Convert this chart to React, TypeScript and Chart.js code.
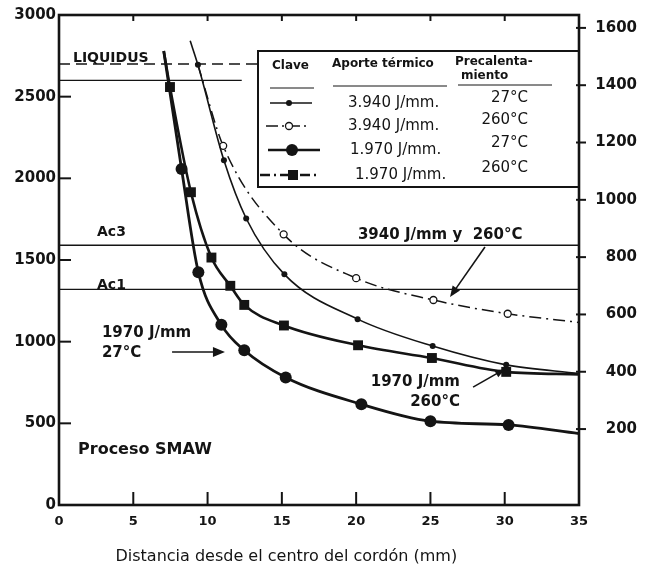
import React, { useEffect, useRef } from 'react';
import { Chart, registerables } from 'chart.js';

Chart.register(...registerables);

const INK = '#141414';
const FONT = '"DejaVu Sans", "Liberation Sans", sans-serif';

// Axis ticks
const xTicks = [0, 5, 10, 15, 20, 25, 30, 35];
const yTicksF = [0, 500, 1000, 1500, 2000, 2500, 3000];
const yTicksC = [200, 400, 600, 800, 1000, 1200, 1400, 1600];

// Series: distance from weld centre (mm) vs peak temperature (°F)
const dist3940at27 = [8.83, 9.35, 11.1, 12.6, 15.17, 20.1, 25.15, 30.1, 35];
const temp3940at27 = [2842, 2695, 2110, 1754, 1412, 1138, 973, 858, 805];

const dist3940at260 = [9.35, 11.05, 15.12, 20.0, 25.2, 30.2, 35];
const temp3940at260 = [2695, 2199, 1657, 1389, 1255, 1171, 1118];

const dist1970at27 = [7.05, 8.25, 9.38, 10.93, 12.47, 15.26, 20.35, 25.0, 30.26, 35];
const temp1970at27 = [2780, 2057, 1425, 1103, 947, 781, 617, 513, 490, 437];

const dist1970at260 = [7.05, 7.47, 8.88, 10.26, 11.53, 12.47, 15.14, 20.13, 25.1, 30.1, 35];
const temp1970at260 = [2780, 2559, 1915, 1515, 1342, 1225, 1099, 978, 900, 815, 800];

// Reference temperatures (°F)
const LIQUIDUS_F = 2700;
const UPPER_F = 2600;
const UPPER_END_MM = 12.3;
const AC3_F = 1590;
const AC1_F = 1320;

// Legend text
const legendHeat = ['3.940 J/mm.', '3.940 J/mm.', '1.970 J/mm.', '1.970 J/mm.'];
const legendPre = ['27°C', '260°C', '27°C', '260°C'];

const toPts = (xs: number[], ys: number[]) => xs.map((x, i) => ({ x, y: ys[i] }));
const marker = (r: number) => (c: any) =>
  c.dataIndex === 0 || c.dataIndex === c.dataset.data.length - 1 ? 0 : r;

function arrow(ctx: CanvasRenderingContext2D, x1: number, y1: number, x2: number, y2: number, head = 10, w = 4.5) {
  const ang = Math.atan2(y2 - y1, x2 - x1);
  ctx.beginPath();
  ctx.moveTo(x1, y1);
  ctx.lineTo(x2 - Math.cos(ang) * head * 0.6, y2 - Math.sin(ang) * head * 0.6);
  ctx.stroke();
  ctx.beginPath();
  ctx.moveTo(x2, y2);
  ctx.lineTo(x2 - head * Math.cos(ang) + w * Math.sin(ang), y2 - head * Math.sin(ang) - w * Math.cos(ang));
  ctx.lineTo(x2 - head * Math.cos(ang) - w * Math.sin(ang), y2 - head * Math.sin(ang) + w * Math.cos(ang));
  ctx.closePath();
  ctx.fill();
}

const overlay = {
  id: 'overlay',
  beforeDatasetsDraw(chart: any) {
    const { ctx, scales } = chart;
    const x = scales.x, y = scales.y;
    ctx.save();
    ctx.strokeStyle = INK;
    ctx.lineWidth = 1.4;
    const h = (v: number, x0: number, x1: number) => {
      ctx.beginPath();
      ctx.moveTo(x.getPixelForValue(x0), y.getPixelForValue(v));
      ctx.lineTo(x.getPixelForValue(x1), y.getPixelForValue(v));
      ctx.stroke();
    };
    h(AC3_F, 0, 35);
    h(AC1_F, 0, 35);
    h(UPPER_F, 0, UPPER_END_MM);
    ctx.setLineDash([11, 6]);
    ctx.lineWidth = 1.6;
    h(LIQUIDUS_F, 0, 35);
    ctx.restore();
  },
  afterDatasetsDraw(chart: any) {
    const { ctx, chartArea: a, scales } = chart;
    const x = scales.x, y = scales.y, yc = scales.yC;
    const px = (v: number) => x.getPixelForValue(v);
    const py = (v: number) => y.getPixelForValue(v);
    ctx.save();
    ctx.fillStyle = INK;
    ctx.strokeStyle = INK;

    // ---- legend box ----
    const L = a.left + 199, T = a.top + 36, B = a.top + 172, R = a.right;
    ctx.fillStyle = '#fff';
    ctx.fillRect(L, T, R - L, B - T);
    ctx.lineWidth = 2;
    ctx.strokeRect(L, T, R - L, B - T);
    ctx.fillStyle = INK;
    ctx.textBaseline = 'middle';
    ctx.textAlign = 'left';
    ctx.font = `bold 12px ${FONT}`;
    ctx.fillText('Clave', L + 14, T + 15);
    ctx.fillText('Aporte térmico', L + 74, T + 13);
    ctx.fillText('Precalenta-', L + 197, T + 11);
    ctx.fillText('miento', L + 203, T + 25);
    ctx.lineWidth = 1;
    const ul = (x0: number, x1: number, yy: number) => {
      ctx.beginPath(); ctx.moveTo(x0, yy); ctx.lineTo(x1, yy); ctx.stroke();
    };
    ul(L + 12, L + 56, T + 37);
    ul(L + 75, L + 189, T + 35);
    ul(L + 200, L + 294, T + 34);

    const rowY = [T + 52, T + 75, T + 99, T + 124];
    const preY = [T + 47, T + 69, T + 92, T + 117];
    const heatX = [L + 90, L + 90, L + 92, L + 97];
    ctx.font = `15px ${FONT}`;
    for (let i = 0; i < 4; i++) {
      ctx.textAlign = 'left';
      ctx.fillText(legendHeat[i], heatX[i], rowY[i]);
      ctx.textAlign = 'right';
      ctx.fillText(legendPre[i], L + 270, preY[i]);
    }
    // legend samples
    const sample = (i: number, x0: number, x1: number, lw: number, dash: number[]) => {
      ctx.lineWidth = lw;
      ctx.setLineDash(dash);
      ctx.beginPath(); ctx.moveTo(x0, rowY[i]); ctx.lineTo(x1, rowY[i]); ctx.stroke();
      ctx.setLineDash([]);
    };
    sample(0, L + 12, L + 54, 1.6, []);
    ctx.beginPath(); ctx.arc(L + 31, rowY[0], 3, 0, Math.PI * 2); ctx.fill();
    sample(1, L + 8, L + 52, 1.5, [12, 4, 2, 4]);
    ctx.beginPath(); ctx.arc(L + 31, rowY[1], 3.5, 0, Math.PI * 2);
    ctx.fillStyle = '#fff'; ctx.fill(); ctx.lineWidth = 1.3; ctx.stroke(); ctx.fillStyle = INK;
    sample(2, L + 10, L + 62, 2.6, []);
    ctx.beginPath(); ctx.arc(L + 34, rowY[2], 6, 0, Math.PI * 2); ctx.fill();
    sample(3, L + 2, L + 60, 2.4, [10, 4, 2, 4]);
    ctx.fillRect(L + 30, rowY[3] - 5, 10, 10);

    // ---- annotations ----
    ctx.textAlign = 'left';
    ctx.font = `bold 14px ${FONT}`;
    ctx.fillText('LIQUIDUS', px(0.94), py(2737));
    ctx.fillText('Ac3', px(2.56), py(1671));
    ctx.fillText('Ac1', px(2.56), py(1347));
    ctx.font = `bold 15px ${FONT}`;
    ctx.fillText('1970 J/mm', px(2.89), py(1053));
    ctx.fillText('27°C', px(2.89), py(931));
    ctx.fillText('3940 J/mm y  260°C', px(20.12), py(1653));
    ctx.font = `bold 16px ${FONT}`;
    ctx.fillText('Proceso SMAW', px(1.28), py(337));
    ctx.font = `bold 15px ${FONT}`;
    ctx.textAlign = 'right';
    ctx.fillText('1970 J/mm', px(26.99), py(753));
    ctx.fillText('260°C', px(26.99), py(631));
    ctx.lineWidth = 1.6;
    arrow(ctx, px(7.61), py(937), px(11.17), py(937), 12, 5);
    arrow(ctx, px(28.67), py(1580), px(26.32), py(1273), 11, 4.5);
    arrow(ctx, px(27.87), py(722), px(30.02), py(833), 10, 4);

    // x-axis title
    ctx.textAlign = 'center';
    ctx.font = `16px ${FONT}`;
    ctx.fillText('Distancia desde el centro del cordón (mm)', px(15.3), a.bottom + 52);

    // ---- frame and ticks ----
    ctx.lineWidth = 2.6;
    ctx.strokeRect(a.left, a.top, a.right - a.left, a.bottom - a.top);
    ctx.lineWidth = 2;
    for (const v of xTicks) {
      if (v === 0 || v === 35) continue;
      ctx.beginPath(); ctx.moveTo(px(v), a.bottom); ctx.lineTo(px(v), a.bottom - 13); ctx.stroke();
      ctx.beginPath(); ctx.moveTo(px(v), a.top); ctx.lineTo(px(v), a.top + 6); ctx.stroke();
    }
    for (const v of yTicksF) {
      if (v === 0 || v === 3000) continue;
      ctx.beginPath(); ctx.moveTo(a.left, py(v)); ctx.lineTo(a.left + 12, py(v)); ctx.stroke();
    }
    for (const v of yTicksC) {
      const yy = yc.getPixelForValue(v);
      ctx.beginPath(); ctx.moveTo(a.right - 3, yy); ctx.lineTo(a.right + 7, yy); ctx.stroke();
    }
    ctx.restore();
  },
};

export default function App() {
  const ref = useRef<HTMLCanvasElement>(null);
  useEffect(() => {
    const tickFont = (size: number) => ({ family: FONT, size, weight: 'bold' as const });
    const plain = (v: any) => String(v);
    const fitY = (w: number) => (s: any) => { s.width = w; s.paddingTop = 0; s.paddingBottom = 0; };
    const chart = new Chart(ref.current!, {
      type: 'line',
      data: {
        datasets: [
          {
            label: '3.940 J/mm 27°C',
            data: toPts(dist3940at27, temp3940at27),
            borderColor: INK,
            borderWidth: 1.6,
            pointStyle: 'circle',
            pointRadius: marker(3),
            pointBackgroundColor: INK,
            pointBorderWidth: 0,
            cubicInterpolationMode: 'monotone',
          },
          {
            label: '3.940 J/mm 260°C',
            data: toPts(dist3940at260, temp3940at260),
            borderColor: INK,
            borderWidth: 1.5,
            borderDash: [12, 5, 2, 5],
            pointStyle: 'circle',
            pointRadius: marker(3.5),
            pointBackgroundColor: '#fff',
            pointBorderColor: INK,
            pointBorderWidth: 1.3,
            cubicInterpolationMode: 'monotone',
          },
          {
            label: '1.970 J/mm 27°C',
            data: toPts(dist1970at27, temp1970at27),
            borderColor: INK,
            borderWidth: 2.8,
            pointStyle: 'circle',
            pointRadius: marker(6),
            pointBackgroundColor: INK,
            pointBorderWidth: 0,
            cubicInterpolationMode: 'monotone',
          },
          {
            label: '1.970 J/mm 260°C',
            data: toPts(dist1970at260, temp1970at260),
            borderColor: INK,
            borderWidth: 2.6,
            pointStyle: 'rect',
            pointRadius: marker(7),
            pointBackgroundColor: INK,
            pointBorderWidth: 0,
            cubicInterpolationMode: 'monotone',
          },
        ],
      },
      options: {
        responsive: false,
        animation: false,
        devicePixelRatio: 1,
        events: [],
        layout: { padding: { top: 15, left: 0, right: 8, bottom: 0 } },
        plugins: { legend: { display: false }, tooltip: { enabled: false } },
        scales: {
          x: {
            type: 'linear',
            position: 'bottom',
            min: 0,
            max: 35,
            afterBuildTicks: (s: any) => { s.ticks = xTicks.map((value) => ({ value })); },
            afterFit: (s: any) => { s.height = 66; s.paddingLeft = 0; s.paddingRight = 0; },
            grid: { display: false, drawTicks: false },
            border: { display: false },
            ticks: { padding: 9, font: tickFont(13), color: INK, autoSkip: false, maxRotation: 0, callback: plain },
          },
          y: {
            type: 'linear',
            position: 'left',
            min: 0,
            max: 3000,
            afterBuildTicks: (s: any) => { s.ticks = yTicksF.map((value) => ({ value })); },
            afterFit: fitY(59),
            grid: { display: false, drawTicks: false },
            border: { display: false },
            ticks: { padding: 3, font: tickFont(15), color: INK, callback: plain },
          },
          yC: {
            type: 'linear',
            position: 'right',
            min: -65,
            max: 1645,
            afterBuildTicks: (s: any) => { s.ticks = yTicksC.map((value) => ({ value })); },
            afterFit: fitY(58),
            grid: { display: false, drawTicks: false },
            border: { display: false },
            ticks: { padding: 7, crossAlign: 'far', font: tickFont(15), color: INK, callback: plain },
          },
        },
      } as any,
      plugins: [overlay],
    });
    return () => chart.destroy();
  }, []);
  return (
    <div style={{ position: 'absolute', left: 0, top: 0, width: 645, height: 571, background: '#fff' }}>
      <canvas ref={ref} width={645} height={571} style={{ display: 'block', width: 645, height: 571 }} />
    </div>
  );
}
